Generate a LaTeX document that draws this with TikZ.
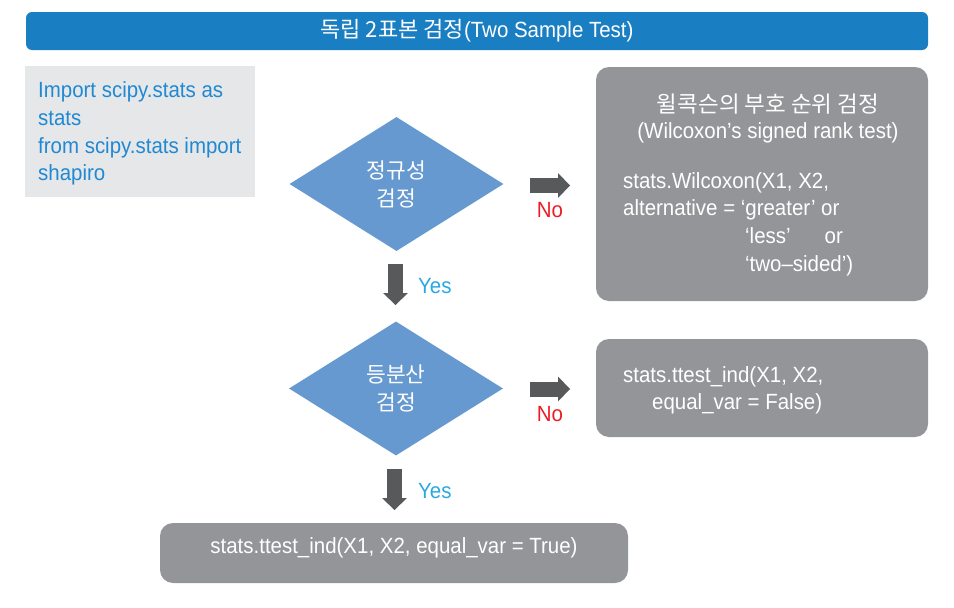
\documentclass[tikz,border=0pt]{standalone}
\usepackage{fontspec}
\setmainfont{Liberation Sans}[FakeStretch=0.93]
\newfontfamily\kr{Noto Sans CJK KR}
\usetikzlibrary{shapes.geometric,arrows.meta}
\definecolor{titleblue}{HTML}{1A7EC2}
\definecolor{diablue}{HTML}{6599CF}
\definecolor{boxgray}{HTML}{939598}
\definecolor{paleback}{HTML}{E6E7E8}
\definecolor{codeblue}{HTML}{2089D3}
\definecolor{yesblue}{HTML}{29A9E1}
\definecolor{nored}{HTML}{ED1C24}
\definecolor{arrgray}{HTML}{58595B}
\tikzset{
  lat/.style={font=\fontsize{22}{28}\selectfont, inner sep=0pt},
  krt/.style={font=\kr\fontsize{22}{28}\selectfont, inner sep=0pt},
  graybox/.style={fill=boxgray, rounded corners=13pt, inner sep=0pt},
  decision/.style={diamond, fill=diablue, inner sep=0pt, aspect=1.6,
    minimum width=214pt, minimum height=134pt, text=white, align=center,
    font=\kr\fontsize{21.5}{28}\selectfont},
  blockarrow/.style={draw=arrgray, line width=15pt,
    -{Triangle[length=12pt,width=25pt,line width=0pt]}},
  nolabel/.style={lat, text=nored, anchor=base},
  yeslabel/.style={lat, text=yesblue, anchor=base west},
}
\begin{document}
\begin{tikzpicture}[x=1pt,y=-1pt]
\useasboundingbox (0,0) rectangle (954,608);
% title bar
\node[fill=titleblue, rounded corners=6pt, minimum width=902pt, minimum height=38pt, inner sep=0pt] (titlebar) at (477,31) {};
\node[lat, text=white] (titletext) at (477,31) {{\kr\fontsize{22}{28}\selectfont 독립 2표본 검정}(Two Sample Test)};
% import box
\node[fill=paleback, minimum width=230pt, minimum height=131pt, inner sep=0pt] (importbox) at (140,131.5) {};
\node[lat, text=codeblue, anchor=base west] (imp1) at (38,97) {Import scipy.stats as};
\node[lat, text=codeblue, anchor=base west] (imp2) at (38,125) {stats};
\node[lat, text=codeblue, anchor=base west] (imp3) at (38,153) {from scipy.stats import};
\node[lat, text=codeblue, anchor=base west] (imp4) at (38,180) {shapiro};
% decisions
\node[decision] (norm) at (396.5,184) {정규성\\검정};
\node[decision] (eqvar) at (396,388.5) {등분산\\검정};
% wilcoxon box
\node[graybox, minimum width=332pt, minimum height=234pt] (wbox) at (762,184) {};
\node[krt, font=\kr\fontsize{22.5}{28}\selectfont, text=white] (wtitle) at (768,104) {윌콕슨의 부호 순위 검정};
\node[lat, text=white, anchor=base] (wsub) at (768,138) {(Wilcoxon’s signed rank test)};
\node[lat, text=white, anchor=base west] (w1) at (623,188) {stats.Wilcoxon(X1, X2,};
\node[lat, text=white, anchor=base west] (w2) at (623,215) {alternative = ‘greater’ or};
\node[lat, text=white, anchor=base west] (w3) at (745,243) {‘less’\hspace{34pt}or};
\node[lat, text=white, anchor=base west] (w4) at (745,271) {‘two–sided’)};
% ttest false box
\node[graybox, minimum width=332pt, minimum height=98pt] (fbox) at (762,388) {};
\node[lat, text=white, anchor=base west] (f1) at (623,382) {stats.ttest\_ind(X1, X2,};
\node[lat, text=white, anchor=base west] (f2) at (652,409) {equal\_var = False)};
% ttest true box
\node[graybox, minimum width=468pt, minimum height=60pt] (tbox) at (394,553) {};
\node[lat, text=white, anchor=base] (t1) at (394,553) {stats.ttest\_ind(X1, X2, equal\_var = True)};
% arrows
\coordinate (r1s) at (530,185.5);
\coordinate (r1e) at (570,185.5);
\coordinate (r2s) at (530,389);
\coordinate (r2e) at (570,389);
\coordinate (d1s) at (395.5,264);
\coordinate (d1e) at (395.5,305);
\coordinate (d2s) at (394.5,469);
\coordinate (d2e) at (394.5,510);
\draw[blockarrow] (r1s) -- (r1e);
\draw[blockarrow] (r2s) -- (r2e);
\draw[blockarrow] (d1s) -- (d1e);
\draw[blockarrow] (d2s) -- (d2e);
\node[nolabel] (no1) at (550,217) {No};
\node[nolabel] (no2) at (550,421) {No};
\node[yeslabel] (yes1) at (418,293) {Yes};
\node[yeslabel] (yes2) at (418,498) {Yes};
\end{tikzpicture}
\end{document}
